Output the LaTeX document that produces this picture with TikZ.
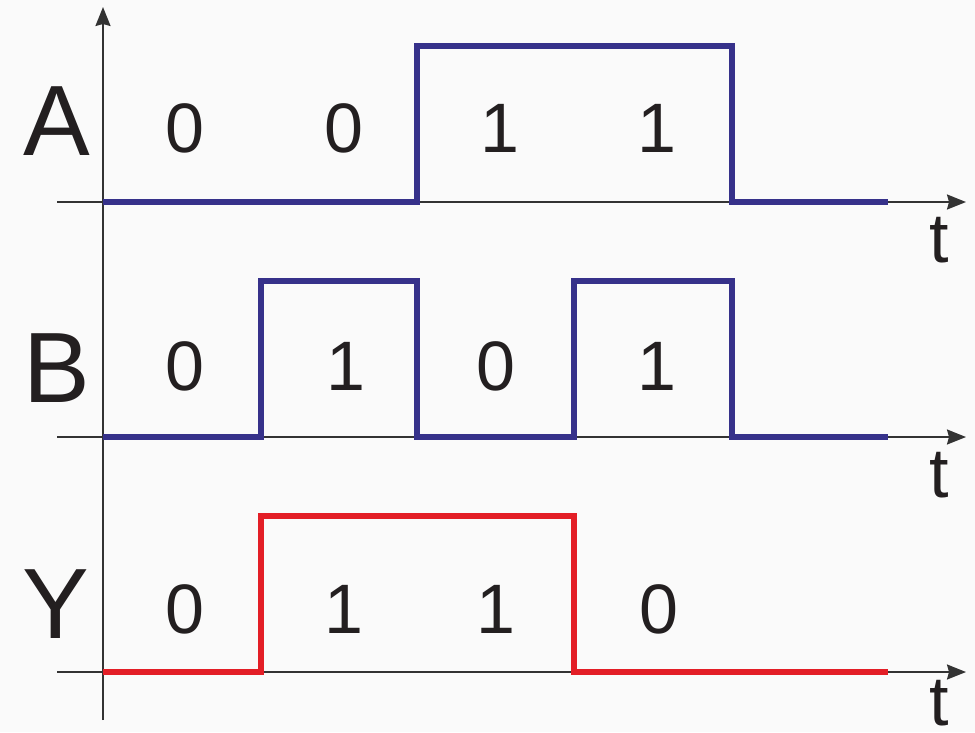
\documentclass[tikz,border=0pt]{standalone}
\usepackage{fontspec}
\setmainfont{Liberation Sans}
\usetikzlibrary{arrows.meta}
\definecolor{wblue}{RGB}{54,49,138}
\definecolor{wred}{RGB}{227,30,38}
\definecolor{axisgray}{RGB}{51,51,51}
\definecolor{ink}{RGB}{35,31,32}
\definecolor{bg}{RGB}{250,250,250}
\tikzset{
  axisline/.style={draw=axisgray, line width=1.8pt, -{Stealth[length=19pt,width=15pt,inset=2pt]}},
  wave/.style={line width=6.8pt, line join=miter, line cap=butt},
  bigletter/.style={inner sep=0pt, text=ink, font=\fontsize{100}{100}\selectfont},
  digit/.style={inner sep=0pt, text=ink, font=\fontsize{70}{70}\selectfont},
  tlabel/.style={inner sep=0pt, text=ink, anchor=base, font=\fontsize{70}{70}\selectfont},
}
\begin{document}
\begin{tikzpicture}[x=1pt,y=-1pt]
\fill[bg] (0,0) rectangle (975,732);
\useasboundingbox (0,0) rectangle (975,732);
% axes
\coordinate (vbot) at (103,720);
\coordinate (vtop) at (103,7);
\draw[axisline] (vbot) -- (vtop);
\coordinate (aL) at (57,202); \coordinate (aR) at (966,202);
\coordinate (bL) at (57,437); \coordinate (bR) at (966,437);
\coordinate (yL) at (57,672); \coordinate (yR) at (966,672);
\draw[axisline] (aL) -- (aR);
\draw[axisline] (bL) -- (bR);
\draw[axisline] (yL) -- (yR);
% t labels
\node[tlabel] (ta) at (939,262) {t};
\node[tlabel] (tb) at (939,497) {t};
\node[tlabel] (ty) at (939,725) {t};
% waveforms
\draw[wave, wblue] (103,202) -- (417,202) -- (417,46) -- (732,46) -- (732,202) -- (888,202);
\draw[wave, wblue] (103,437) -- (261,437) -- (261,281) -- (417,281) -- (417,437) -- (574,437) -- (574,281) -- (732,281) -- (732,437) -- (888,437);
\draw[wave, wred] (103,672) -- (261,672) -- (261,516) -- (574,516) -- (574,672) -- (888,672);
% signal names
\node[bigletter] (la) at (56.5,121) {A};
\node[bigletter] (lb) at (57,368) {B};
\node[bigletter] (ly) at (56,604) {Y};
% values
\node[digit] (a1) at (185,128) {0};
\node[digit] (a2) at (344,128) {0};
\node[digit] (a3) at (500,128) {1};
\node[digit] (a4) at (657,128) {1};
\node[digit] (b1) at (185,366) {0};
\node[digit] (b2) at (346,366) {1};
\node[digit] (b3) at (496,366) {0};
\node[digit] (b4) at (657,366) {1};
\node[digit] (y1) at (185,609) {0};
\node[digit] (y2) at (344,609) {1};
\node[digit] (y3) at (496,609) {1};
\node[digit] (y4) at (659,609) {0};
\end{tikzpicture}
\end{document}
